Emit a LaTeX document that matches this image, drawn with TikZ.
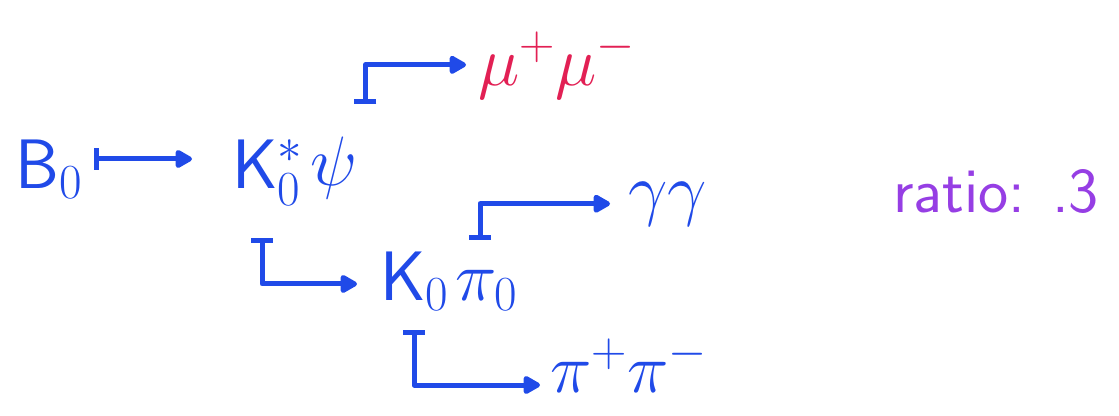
\RequirePackage{fix-cm}
\documentclass[tikz,border=0pt]{standalone}
\usetikzlibrary{arrows.meta,calc}
\definecolor{ink}{RGB}{32,74,232}
\definecolor{redink}{RGB}{226,32,84}
\definecolor{violetink}{RGB}{150,62,228}
\tikzset{
  part/.style={inner sep=0pt, anchor=base west, text=ink, font=\fontsize{70}{84}\selectfont},
  decay/.style={draw=ink, line width=5pt, line join=round,
    {Bar[width=22pt, line width=5pt]}-{Triangle[length=19pt, width=20pt, round]}},
}
\begin{document}
\begin{tikzpicture}[x=1pt,y=-1pt]
\useasboundingbox (0,0) rectangle (1119,415);
\node[part] (B) at (15,188) {$\mathsf{B}_0$};
\node[part] (Kst) at (232,188) {$\mathsf{K}_0^*$};
\node[part] (psi) at (310,185) {$\psi$};
\node[part, text=redink] (mumu) at (478,85) {$\mu^+\mu^-$};
\node[part] (K0) at (380,300) {$\mathsf{K}_0$};
\node[part] (pi0) at (455,300) {$\pi_0$};
\node[part] (gg) at (628,212) {$\gamma\gamma$};
\node[part] (pipi) at (550,392) {$\pi^+\pi^-$};
\node[anchor=base west, inner sep=0pt, text=violetink, font=\sffamily\fontsize{64}{76}\selectfont] (ratio) at (893,212) {ratio: .3};

\draw[decay] ($(B.east)+(12,-10)$) -- ($(B.east -| Kst.west)+(-40,-10)$);
\draw[decay] ($(psi.north east)+(8,-32)$) |- ($(mumu.west)+(-12,0)$);
\draw[decay] ($(Kst.base west)+(30,50)$) |- ($(K0.west)+(-23,3)$);
\draw[decay] ($(pi0.base west)+(25,-60)$) |- ($(gg.west)+(-18,0)$);
\draw[decay] ($(K0.base west)+(34,30)$) |- ($(pipi.west)+(-10,20)$);
\end{tikzpicture}
\end{document}
